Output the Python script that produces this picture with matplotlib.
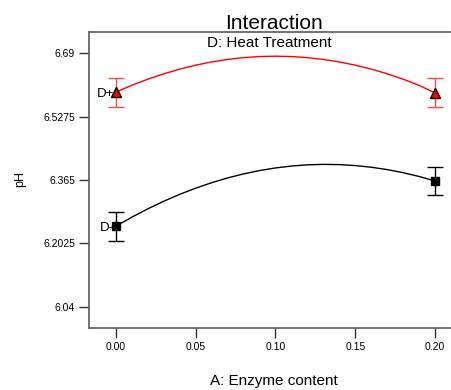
import matplotlib.pyplot as plt

plt.rcParams['font.family'] = ['Liberation Sans', 'DejaVu Sans']

# factor levels (A: Enzyme content) and means with error bars
x_pts = [0.00, 0.20]
dplus_pts = [6.590, 6.588]
dminus_pts = [6.2466, 6.3624]
err = [0.037, 0.037]

# model curves at 0.01 steps
x_curve = [0.00, 0.01, 0.02, 0.03, 0.04, 0.05, 0.06, 0.07, 0.08, 0.09, 0.10,
           0.11, 0.12, 0.13, 0.14, 0.15, 0.16, 0.17, 0.18, 0.19, 0.20]
dplus_curve = [6.590, 6.6075, 6.6231, 6.6369, 6.6489, 6.659, 6.6673, 6.6737, 6.6783, 6.6811, 6.682,
               6.6811, 6.6783, 6.6737, 6.6673, 6.659, 6.6489, 6.6369, 6.6231, 6.6072, 6.588]
dminus_curve = [6.2466, 6.2697, 6.2910, 6.3105, 6.3282, 6.3440, 6.3580, 6.3702, 6.3806, 6.3891, 6.3958,
                6.4007, 6.4038, 6.4050, 6.4044, 6.4019, 6.3977, 6.3916, 6.3837, 6.3740, 6.3624]

yticks = [6.04, 6.2025, 6.365, 6.5275, 6.69]
xticks = [0.00, 0.05, 0.10, 0.15, 0.20]

fig = plt.figure(figsize=(4.51, 3.90), dpi=100)
ax = fig.add_axes([0.197, 0.159, 0.801, 0.759])

ax.plot(x_curve, dplus_curve, color='#ff0000', lw=1)
ax.plot(x_curve, dminus_curve, color='black', lw=1)
ax.errorbar(x_pts, dplus_pts, yerr=err, fmt='none', ecolor='#ff4a4a', elinewidth=1, capsize=6, capthick=1)
ax.errorbar(x_pts, dminus_pts, yerr=err, fmt='none', ecolor='black', elinewidth=1, capsize=6, capthick=1)
ax.plot(x_pts, dplus_pts, ls='none', marker='^', ms=7, mfc='#ff0000', mec='black', mew=1, zorder=5)
ax.plot(x_pts, dminus_pts, ls='none', marker='s', ms=5.5, mfc='black', mec='black', zorder=5)

ax.text(-0.0012, dplus_pts[0], 'D+', ha='right', va='center_baseline', fontsize=9.5)
ax.text(-0.0012, dminus_pts[0], 'D-', ha='right', va='center_baseline', fontsize=9.5)

ax.set_xlim(-0.0169, 0.2094)
ax.set_ylim(5.986, 6.744)
ax.set_xticks(xticks)
ax.set_xticklabels(['%.2f' % v for v in xticks])
ax.set_yticks(yticks)
ax.set_yticklabels(['6.04', '6.2025', '6.365', '6.5275', '6.69'])
ax.tick_params(axis='both', labelsize=7.5, length=7, width=1, color='#333333', pad=3)

for s in ['left', 'top', 'bottom']:
    ax.spines[s].set_color('#666666')
    ax.spines[s].set_linewidth(1.3)
ax.spines['right'].set_visible(False)

fig.text(0.607, 0.94, 'Interaction', ha='center', va='center', fontsize=15)
ax.text(0.5, 0.988, 'D: Heat Treatment', transform=ax.transAxes, ha='center', va='top', fontsize=11)
fig.text(0.607, 0.022, 'A: Enzyme content', ha='center', va='center', fontsize=11)
fig.text(0.045, 0.541, 'pH', rotation=90, ha='center', va='center', fontsize=9)

fig.savefig('out.png', dpi=100)
